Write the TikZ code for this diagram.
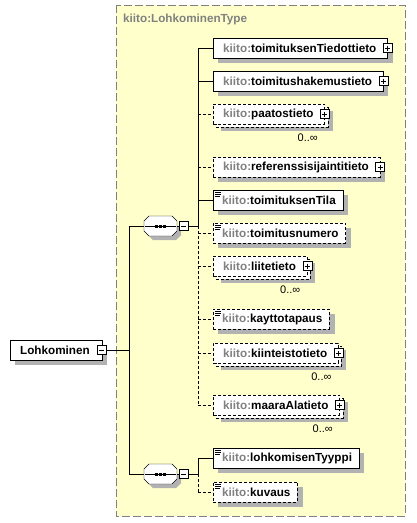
\documentclass[tikz,border=0pt]{standalone}
\usepackage{fontspec}
\setmainfont{Liberation Sans}
\usetikzlibrary{calc}
\pgfdeclarelayer{bgl}
\pgfdeclarelayer{shl}
\pgfdeclarelayer{cpl}
\pgfsetlayers{bgl,shl,cpl,main}
\definecolor{bgyel}{RGB}{255,255,204}
\definecolor{kgray}{RGB}{128,128,128}
\definecolor{shadowc}{RGB}{178,178,178}
\definecolor{bordgray}{RGB}{128,128,128}
\newcommand\kt{\textcolor{kgray}{kiito:}}
\newcommand\efont{\fontsize{11.7}{14}\selectfont\bfseries}
\newcommand\pp[1]{\hspace*{10pt}\kt#1\hspace*{11pt}}
\newcommand\np[1]{\hspace*{9pt}\kt#1\hspace*{7pt}}
\newcommand\eshad[1]{%
  \begin{pgfonlayer}{shl}
    \fill[shadowc] ($(#1.north west)+(5,5)$) rectangle ($(#1.south east)+(5,5)$);
  \end{pgfonlayer}}
\newcommand\mshad[1]{%
  \begin{pgfonlayer}{shl}
    \fill[shadowc] ($(#1.north west)+(8,7)$) rectangle ($(#1.south east)+(8,7)$);
  \end{pgfonlayer}
  \begin{pgfonlayer}{cpl}
    \draw[dline, fill=white] ($(#1.north west)+(3,3)$) rectangle ($(#1.south east)+(3,3)$);
  \end{pgfonlayer}}
\newcommand\eqic[1]{%
  \draw[line width=0.8pt] ($(#1.north west)+(2,2.5)$) -- ++(6,0);
  \draw[line width=0.8pt] ($(#1.north west)+(2,4.5)$) -- ++(6,0);
  \draw[line width=0.8pt] ($(#1.north west)+(2,6.5)$) -- ++(5,0);}
\newcommand\octo[1]{%
  \begin{scope}[shift={(#1.center)}]
    \begin{pgfonlayer}{shl}
    \fill[shadowc] (-12.5,-5) -- (10.5,-5) -- (15.5,0) -- (20.5,0) -- (20.5,9) -- (15.5,14) -- (-7.5,14) -- (-12.5,9) -- cycle;
    \end{pgfonlayer}
    \draw[fill=white] (-16.5,-5) -- (-11.5,-10) -- (11.5,-10) -- (16.5,-5) -- (16.5,5) -- (11.5,10) -- (-11.5,10) -- (-16.5,5) -- cycle;
    \draw (-15.5,0) -- (15.5,0);
    \fill (-5.5,-1.5) rectangle (-2.5,1.5);
    \fill (-1.5,-1.5) rectangle (1.5,1.5);
    \fill (2.5,-1.5) rectangle (5.5,1.5);
  \end{scope}}
\begin{document}
\begin{tikzpicture}[x=1pt,y=-1pt,line width=1pt,
  dline/.style={dash pattern=on 3pt off 2pt},
  elem/.style={draw, fill=white, anchor=west, minimum height=20pt, inner sep=0pt, font=\efont},
  oelem/.style={elem, dline},
  plusbox/.style={draw, solid, fill=white, minimum size=9pt, inner sep=0pt,
    path picture={\draw[line width=1pt] ([xshift=2pt]path picture bounding box.west) -- ([xshift=-2pt]path picture bounding box.east);
                  \draw[line width=1pt] ([yshift=-2pt]path picture bounding box.north) -- ([yshift=2pt]path picture bounding box.south);}},
  minusbox/.style={draw, solid, fill=white, minimum size=9pt, inner sep=0pt,
    path picture={\draw[line width=1pt] ([xshift=2pt]path picture bounding box.west) -- ([xshift=-2pt]path picture bounding box.east);}},
  seqn/.style={minimum width=33pt, minimum height=20pt, inner sep=0pt},
  mult/.style={font=\fontsize{11}{13}\selectfont, inner sep=0pt}
]
\useasboundingbox (0,0) rectangle (416,523);
% type box
\begin{pgfonlayer}{bgl}
\fill[bgyel] (116,5) rectangle (405,516);
\draw[bordgray, dash pattern=on 8pt off 3pt] (116,5) rectangle (405,516);
\end{pgfonlayer}
\node[anchor=west, font=\efont, text=kgray, inner sep=0pt] (title) at (123,19) {kiito:LohkominenType};

% root element
\node[elem] (L) at (10,350) {\hspace*{10pt}Lohkominen\hspace*{12pt}};
\eshad{L}
\node[minusbox] (Lm) at (L.east) {};

% sequences
\node[seqn] (s1) at (160.5,226) {};
\octo{s1}
\node[minusbox] (s1m) at ($(s1.east)+(6.5,0)$) {};
\node[seqn] (s2) at (160.5,474) {};
\octo{s2}
\node[minusbox] (s2m) at ($(s2.east)+(6.5,0)$) {};

% elements of first sequence
\node[elem] (n1) at (213,48) {\pp{toimituksenTiedottieto}};
\eshad{n1}
\node[plusbox] (n1p) at (n1.east) {};
\node[elem] (n2) at (213,81) {\pp{toimitushakemustieto}};
\eshad{n2}
\node[plusbox] (n2p) at (n2.east) {};
\node[oelem] (n3) at (213,114) {\pp{paatostieto}};
\mshad{n3}
\node[plusbox] (n3p) at (n3.east) {};
\node[mult] (n3m) at ($(n3.south east)+(-17,14)$) {0..∞};
\node[oelem] (n4) at (213,167) {\pp{referenssisijaintitieto}};
\eshad{n4}
\node[plusbox] (n4p) at (n4.east) {};
\node[elem] (n5) at (213,200) {\np{toimituksenTila}};
\eshad{n5}
\eqic{n5}
\node[oelem] (n6) at (213,233) {\np{toimitusnumero}};
\eshad{n6}
\eqic{n6}
\node[oelem] (n7) at (213,266) {\pp{liitetieto}};
\mshad{n7}
\node[plusbox] (n7p) at (n7.east) {};
\node[mult] (n7m) at ($(n7.south east)+(-17,14)$) {0..∞};
\node[oelem] (n8) at (213,319) {\np{kayttotapaus}};
\eshad{n8}
\eqic{n8}
\node[oelem] (n9) at (213,353) {\pp{kiinteistotieto}};
\mshad{n9}
\node[plusbox] (n9p) at (n9.east) {};
\node[mult] (n9m) at ($(n9.south east)+(-17,14)$) {0..∞};
\node[oelem] (n10) at (213,405) {\pp{maaraAlatieto}};
\mshad{n10}
\node[plusbox] (n10p) at (n10.east) {};
\node[mult] (n10m) at ($(n10.south east)+(-17,14)$) {0..∞};

% elements of second sequence
\node[elem] (n11) at (213,458) {\np{lohkomisenTyyppi}};
\eshad{n11}
\eqic{n11}
\node[oelem] (n12) at (213,492) {\np{kuvaus}};
\eshad{n12}
\eqic{n12}

% connectors
\coordinate (t0) at (129,350);
\coordinate (t1) at (198,226);
\coordinate (t2) at (198,474);
\draw (Lm.east) -- (t0);
\draw (s1.west -| t0) -- (s2.west -| t0);
\draw (s1.west -| t0) -- (s1.west);
\draw (s2.west -| t0) -- (s2.west);
\draw (s1.east) -- (s1m.west);
\draw (s2.east) -- (s2m.west);
\draw (s1m.east) -- (t1);
\draw (s2m.east) -- (t2);
\draw (n1.west -| t1) -- (t1);
\draw[dline] (t1) -- (n10.west -| t1);
\draw (n11.west -| t2) -- (t2);
\draw[dline] (t2) -- (n12.west -| t2);
\draw (n1.west -| t1) -- (n1.west);
\draw (n2.west -| t1) -- (n2.west);
\draw[dline] (n3.west -| t1) -- (n3.west);
\draw[dline] (n4.west -| t1) -- (n4.west);
\draw (n5.west -| t1) -- (n5.west);
\draw[dline] (n6.west -| t1) -- (n6.west);
\draw[dline] (n7.west -| t1) -- (n7.west);
\draw[dline] (n8.west -| t1) -- (n8.west);
\draw[dline] (n9.west -| t1) -- (n9.west);
\draw[dline] (n10.west -| t1) -- (n10.west);
\draw (n11.west -| t2) -- (n11.west);
\draw[dline] (n12.west -| t2) -- (n12.west);
\end{tikzpicture}
\end{document}
